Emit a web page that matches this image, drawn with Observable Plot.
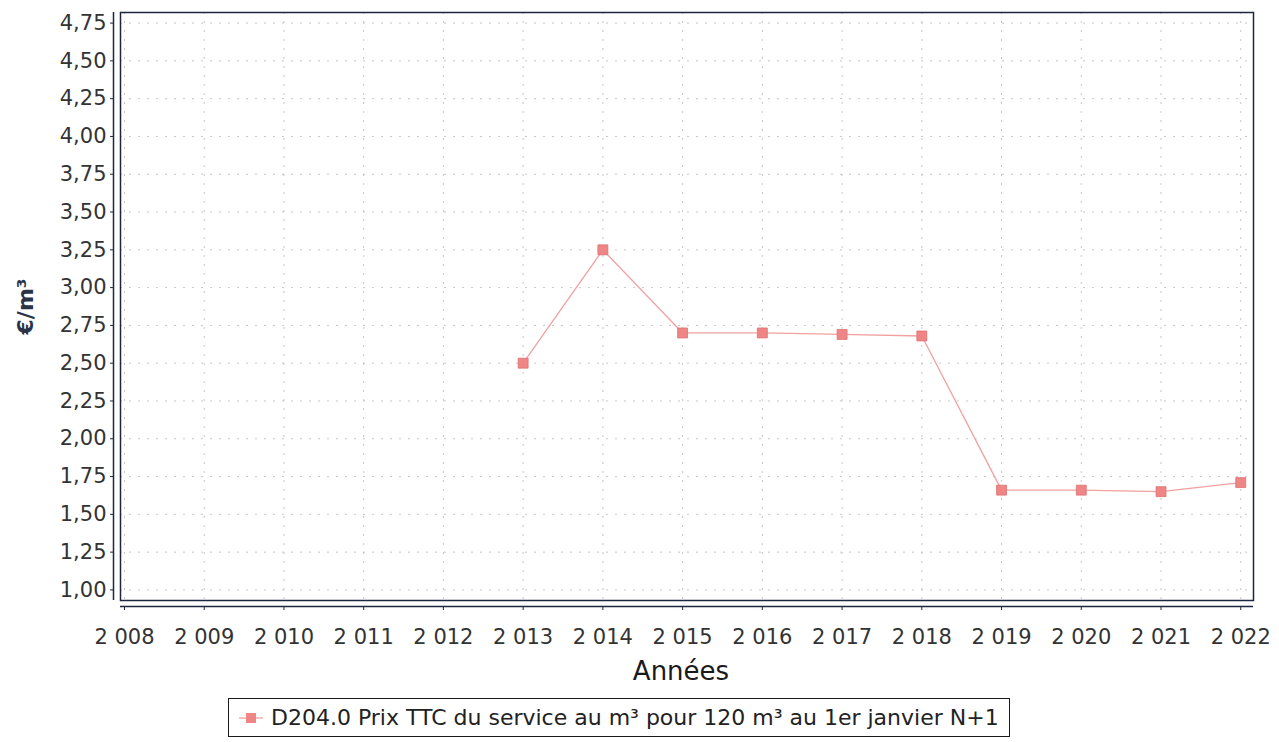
<!DOCTYPE html>
<html>
<head>
<meta charset="utf-8">
<script src="https://cdn.jsdelivr.net/npm/d3@7"></script>
<script src="https://cdn.jsdelivr.net/npm/@observablehq/plot@0.6"></script>
<style>
  html, body { margin: 0; padding: 0; background: #fff; }
  body { width: 1279px; height: 742px; overflow: hidden; font-family: "DejaVu Sans", sans-serif; }
  #chart { position: relative; }
  #legend {
    position: absolute; left: 228px; top: 698px;
    border: 1.5px solid #1a1a1a; padding: 2px 10px 2px 8px;
    font-family: "DejaVu Sans", sans-serif; font-size: 22px; color: #222;
    white-space: nowrap; display: flex; align-items: center; height: 33px;
  }
</style>
</head>
<body>
<div id="chart"></div>
<script>
// ---- data ----
const tickYears = [2008, 2009, 2010, 2011, 2012, 2013, 2014, 2015, 2016, 2017, 2018, 2019, 2020, 2021, 2022];
const yearsWithData = [2013, 2014, 2015, 2016, 2017, 2018, 2019, 2020, 2021, 2022];
const prices = [2.50, 3.25, 2.70, 2.70, 2.69, 2.68, 1.66, 1.66, 1.65, 1.71];
const yTicks = [1.00, 1.25, 1.50, 1.75, 2.00, 2.25, 2.50, 2.75, 3.00, 3.25, 3.50, 3.75, 4.00, 4.25, 4.50, 4.75];
const seriesLabel = "D204.0 Prix TTC du service au m³ pour 120 m³ au 1er janvier N+1";
const xTitle = "Années";
const yTitle = "€/m³";

const rows = yearsWithData.map((y, i) => ({ year: y, price: prices[i] }));

const fr = d3.formatLocale({ decimal: ",", thousands: "\u00a0", grouping: [3], currency: ["", " €"] });
const fmtY = fr.format(".2f");
const fmtX = fr.format(",d");

const xDomain = [2007.95, 2022.16];
const yDomain = [0.93, 4.82];
const lineColor = "#f2a0a0";
const dotColor = "#ef8585";
const frameColor = "#1f2740";

const chart = Plot.plot({
  width: 1279,
  height: 690,
  marginTop: 12,
  marginBottom: 90,
  marginLeft: 120,
  marginRight: 26,
  style: { fontFamily: "DejaVu Sans, sans-serif", fontSize: "21px", color: "#222", background: "#fff" },
  x: { domain: xDomain, label: null },
  y: { domain: yDomain, label: null },
  marks: [
    Plot.gridY(yTicks, { stroke: "#b8b8b8", strokeOpacity: 0.8, strokeDasharray: "2,7" }),
    Plot.gridX(tickYears, { stroke: "#b8b8b8", strokeOpacity: 0.8, strokeDasharray: "2,7" }),
    Plot.frame({ stroke: frameColor, strokeWidth: 1.5 }),
    Plot.ruleX([xDomain[0]], { dx: -7, stroke: frameColor, strokeWidth: 1.5 }),
    Plot.ruleY([yDomain[0]], { dy: 6, stroke: frameColor, strokeWidth: 1.5 }),
    Plot.axisY(yTicks, { tickFormat: fmtY, tickSize: 3, tickPadding: 4, dx: -7, stroke: frameColor, fontSize: 21, fill: "#333", label: null }),
    Plot.axisX(tickYears, { tickFormat: fmtX, tickSize: 4, tickPadding: 19, dy: 6, stroke: frameColor, fontSize: 21, fill: "#333", label: null }),
    Plot.line(rows, { x: "year", y: "price", stroke: lineColor, strokeWidth: 1.3 }),
    Plot.dot(rows, { x: "year", y: "price", symbol: "square", r: 5.6, fill: dotColor, stroke: "#e07070", strokeWidth: 0.8 }),
    Plot.text([xTitle], { frameAnchor: "bottom", lineAnchor: "middle", dx: -6, dy: 71, fontSize: 26, fontWeight: 500, fill: "#1a1a1a" }),
    Plot.text([yTitle], { frameAnchor: "left", dx: -95, rotate: -90, textAnchor: "middle", fontSize: 22, fontWeight: "bold", fill: "#2a3448" })
  ]
});
document.getElementById("chart").appendChild(chart);

const legend = document.createElement("div");
legend.id = "legend";
legend.innerHTML = `<svg width="28" height="14" style="margin-right:6px"><line x1="2" x2="26" y1="7" y2="7" stroke="${lineColor}" stroke-width="1.3"/><rect x="9" y="2" width="10" height="10" fill="${dotColor}"/></svg><span></span>`;
legend.querySelector("span").textContent = seriesLabel;
document.body.appendChild(legend);
</script>
</body>
</html>
